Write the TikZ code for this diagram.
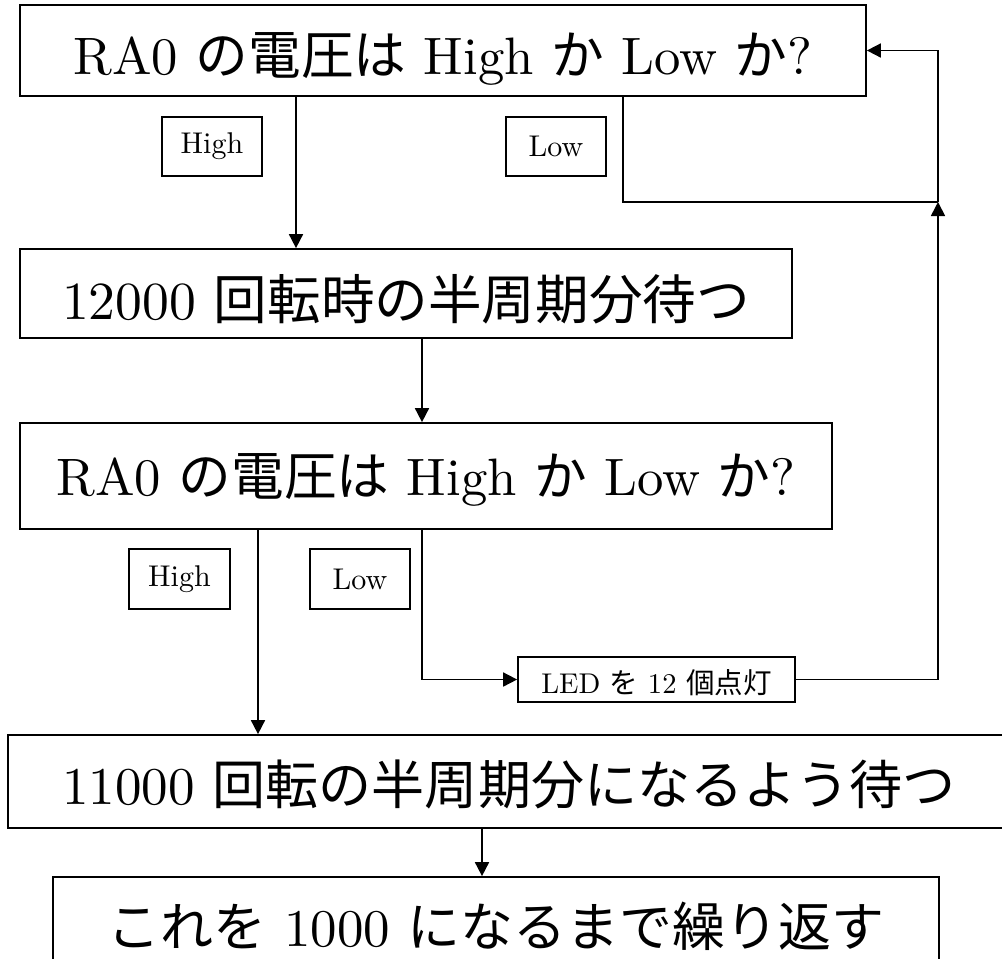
\documentclass[tikz,border=0pt]{standalone}
\usepackage{fontspec}
\setmainfont{lmroman10-regular.otf}
\newfontfamily\jp{Noto Sans CJK JP}
\usetikzlibrary{arrows.meta}
\begin{document}
\begin{tikzpicture}[x=0.75pt,y=-0.75pt,line width=1.3pt,
  box/.style={draw,rectangle,inner sep=0pt,line width=1.3pt},
  arr/.style={-{Triangle[length=10.5pt,width=10.5pt]}},
  lbl/.style={box,font=\fontsize{22.5}{24}\selectfont}]
\useasboundingbox (0,0) rectangle (1002,958);
% main boxes
\node[box,minimum width=846*0.75pt,minimum height=91*0.75pt,text height=46.6pt,text depth=10pt,font=\fontsize{39.5}{42}\selectfont] (b1) at (443,50.5) {RA0 {\jp の電圧は} High {\jp か} Low {\jp か}?};
\node[box,minimum width=772*0.75pt,minimum height=89*0.75pt,text height=49.3pt,text depth=10pt,font=\fontsize{40.2}{42}\selectfont] (b2) at (406,293.5) {12000 {\jp 回転時の半周期分待つ}};
\node[box,minimum width=812*0.75pt,minimum height=106*0.75pt,text height=39pt,text depth=10pt,font=\fontsize{39.5}{42}\selectfont] (b3) at (426,476) {RA0 {\jp の電圧は} High {\jp か} Low {\jp か}?};
\node[box,minimum width=1002*0.75pt,minimum height=93*0.75pt,text height=44.4pt,text depth=10pt,font=\fontsize{39.8}{42}\selectfont] (b4) at (509,781.5) {11000 {\jp 回転の半周期分になるよう待つ}};
\node[box,minimum width=886*0.75pt,minimum height=98*0.75pt,text height=41.4pt,text depth=10pt,font=\fontsize{39.7}{42}\selectfont] (b5) at (496,926) {{\jp これを} 1000 {\jp になるまで繰り返す}};
\node[box,minimum width=277*0.75pt,minimum height=45*0.75pt,text height=26pt,text depth=5pt,font=\fontsize{21.4}{23}\selectfont] (led) at (656.5,679.5) {LED {\jp を} 12 {\jp 個点灯}};
% labels
\node[lbl,minimum width=100*0.75pt,minimum height=59*0.75pt] (l1h) at (212,146.5) {High};
\node[lbl,minimum width=100*0.75pt,minimum height=59*0.75pt] (l1l) at (556,146.5) {Low};
\node[lbl,minimum width=101*0.75pt,minimum height=60*0.75pt] (l3h) at (179.5,579) {High};
\node[lbl,minimum width=100*0.75pt,minimum height=60*0.75pt] (l3l) at (360,579) {Low};
% connectors
\coordinate (j) at (938,202);
\draw[arr] (b1.south -| 296,0) -- (b2.north -| 296,0);
\draw (b1.south -| 623,0) |- (j);
\draw[arr] (b2.south -| 422,0) -- (b3.north -| 422,0);
\draw[arr] (b3.south -| 258,0) -- (b4.north -| 258,0);
\draw[arr] (b3.south -| 422,0) |- (led.west);
\draw[arr] (led.east) -| (j);
\draw[arr] (j) |- (b1.east);
\draw[arr] (b4.south -| 482,0) -- (b5.north -| 482,0);
\end{tikzpicture}
\end{document}
